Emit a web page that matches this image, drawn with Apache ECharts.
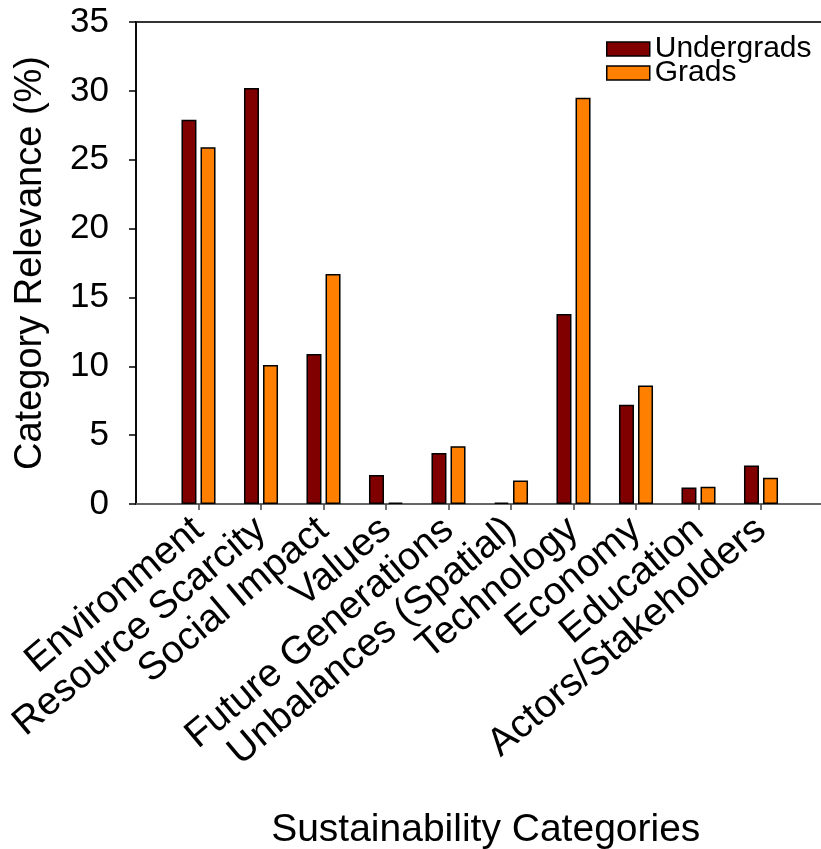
<!DOCTYPE html>
<html>
<head>
<meta charset="utf-8">
<script src="https://cdn.jsdelivr.net/npm/echarts@6/dist/echarts.min.js"></script>
<style>html,body{margin:0;padding:0;background:#fff;}#chart{width:821px;height:849px;}</style>
</head>
<body>
<div id="chart"></div>
<script>
const categories = ['Environment','Resource Scarcity','Social Impact','Values','Future Generations','Unbalances (Spatial)','Technology','Economy','Education','Actors/Stakeholders'];
const undergrads = [27.9, 30.2, 10.9, 2.1, 3.7, 0.1, 13.8, 7.2, 1.2, 2.8];
const grads = [25.9, 10.1, 16.7, 0.1, 4.2, 1.7, 29.5, 8.6, 1.25, 1.9];
const yTicks = {min: 0, max: 35, interval: 5};
const seriesNames = ['Undergrads', 'Grads'];

const FONT = 'Liberation Sans, Arial, sans-serif';
const axisCats = [''].concat(categories, ['']);
const pad = arr => ['-'].concat(arr, ['-']);

const chart = echarts.init(document.getElementById('chart'), null, {renderer: 'canvas'});
chart.setOption({
  animation: false,
  backgroundColor: '#fff',
  textStyle: {fontFamily: FONT},
  grid: {left: 136, top: 22, bottom: 345, right: -2.5, show: true, borderColor: '#333', borderWidth: 2, outerBoundsMode: 'none', containLabel: false},
  legend: [
    {data: [seriesNames[0]], left: 606, top: 34, padding: 0, itemWidth: 43, itemHeight: 14, icon: 'rect',
     itemStyle: {borderColor: '#000', borderWidth: 1.5},
     textStyle: {fontFamily: FONT, fontSize: 30, color: '#000'}},
    {data: [seriesNames[1]], left: 606, top: 58, padding: 0, itemWidth: 43, itemHeight: 14, icon: 'rect',
     itemStyle: {borderColor: '#000', borderWidth: 1.5},
     textStyle: {fontFamily: FONT, fontSize: 30, color: '#000'}}
  ],
  xAxis: {
    type: 'category',
    data: axisCats,
    boundaryGap: false,
    axisLine: {lineStyle: {color: '#777', width: 1.5}},
    axisTick: {show: true, length: 6, lineStyle: {color: '#444', width: 1.5}, interval: (i) => i > 0 && i < axisCats.length - 1},
    axisLabel: {rotate: 40, interval: 0, fontSize: 39, color: '#000', fontFamily: FONT, margin: 21},
    splitLine: {show: false},
    name: 'Sustainability Categories',
    nameLocation: 'middle',
    nameGap: 307,
    nameTextStyle: {fontSize: 39, color: '#000', fontFamily: FONT, padding: [0, 0, 0, 12]}
  },
  yAxis: {
    type: 'value',
    min: yTicks.min, max: yTicks.max, interval: yTicks.interval,
    axisLine: {show: true, lineStyle: {color: '#000', width: 1.5}},
    axisTick: {show: true, length: 7, lineStyle: {color: '#000', width: 1.5}},
    axisLabel: {fontSize: 35, color: '#000', fontFamily: FONT, margin: 27},
    splitLine: {show: false},
    name: 'Category Relevance (%)',
    nameLocation: 'middle',
    nameGap: 86,
    nameTextStyle: {fontSize: 38, color: '#000', fontFamily: FONT}
  },
  series: [
    {name: seriesNames[0], type: 'bar', data: pad(undergrads), barWidth: 15, barGap: '27%',
     itemStyle: {color: '#800000', borderColor: '#000', borderWidth: 1.5}},
    {name: seriesNames[1], type: 'bar', data: pad(grads), barWidth: 15, barGap: '27%',
     itemStyle: {color: '#FF8000', borderColor: '#000', borderWidth: 1.5}}
  ]
});
</script>
</body>
</html>
